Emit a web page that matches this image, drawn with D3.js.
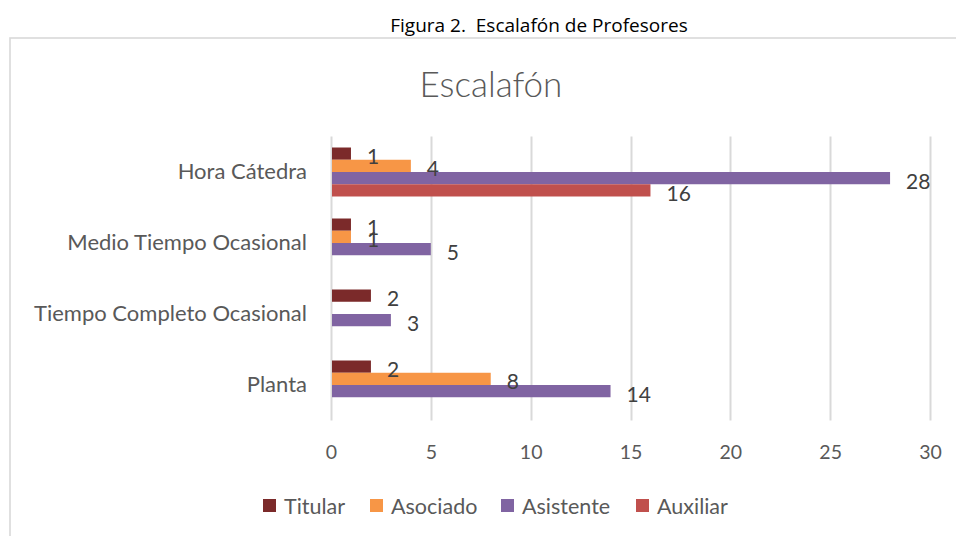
<!DOCTYPE html>
<html>
<head>
<meta charset="utf-8">
<script src="https://cdn.jsdelivr.net/npm/d3@7"></script>
<style>
  body { margin: 0; background: #fff; }
  svg text { font-family: "Lato", "Open Sans", sans-serif; }
</style>
</head>
<body>
<svg id="chart" width="956" height="536"></svg>
<script>
var categories = ["Hora Cátedra", "Medio Tiempo Ocasional", "Tiempo Completo Ocasional", "Planta"];
var seriesNames = ["Titular", "Asociado", "Asistente", "Auxiliar"];
var titular = [1, 1, 2, 2];
var asociado = [4, 1, null, 8];
var asistente = [28, 5, 3, 14];
var auxiliar = [16, null, null, null];
var xTicks = [0, 5, 10, 15, 20, 25, 30];

var series = [titular, asociado, asistente, auxiliar];
var colours = ["#7B2A2A", "#F79646", "#8064A2", "#C0504D"];

var svg = d3.select("#chart"),
    margin = {top: 136.5, right: 26, bottom: 115.5, left: 331},
    width = +svg.attr("width") - margin.left - margin.right,
    height = +svg.attr("height") - margin.top - margin.bottom;

// caption above the frame
svg.append("text")
    .attr("x", 539)
    .attr("y", 25)
    .attr("text-anchor", "middle")
    .attr("dominant-baseline", "central")
    .attr("fill", "#000")
    .style("font-family", "'Open Sans', sans-serif")
    .style("font-size", "19px")
    .text("Figura 2.\u00a0 Escalafón de Profesores");

// chart frame
svg.append("rect")
    .attr("x", 10).attr("y", 38)
    .attr("width", 960).attr("height", 520)
    .attr("fill", "none")
    .attr("stroke", "#d9d9d9")
    .attr("stroke-width", 1.6);

svg.append("text")
    .attr("x", 491)
    .attr("y", 83)
    .attr("text-anchor", "middle")
    .attr("dominant-baseline", "central")
    .attr("fill", "#595959")
    .style("font-size", "35px")
    .style("font-weight", 300)
    .text("Escalafón");

var chart = svg.append("g").attr("transform", "translate(" + margin.left + "," + margin.top + ")");

var x = d3.scaleLinear().domain([0, 30]).range([0, width]);

var y0 = d3.scaleBand()
    .domain(categories)
    .range([0, height])
    .paddingInner(0.31)
    .paddingOuter(0.155);

var y1 = d3.scaleBand()
    .domain(seriesNames)
    .range([0, y0.bandwidth()]);

// gridlines
chart.append("g")
    .selectAll("line")
    .data(xTicks)
    .enter().append("line")
    .attr("x1", function(d) { return Math.round(x(d)) + 0.5; })
    .attr("x2", function(d) { return Math.round(x(d)) + 0.5; })
    .attr("y1", 0)
    .attr("y2", height)
    .attr("stroke", "#d9d9d9")
    .attr("stroke-width", 2);

// x axis labels
var xAxis = chart.append("g")
    .attr("transform", "translate(0," + height + ")")
    .call(d3.axisBottom(x).tickValues(xTicks).tickSize(0).tickPadding(0));
xAxis.select(".domain").remove();
xAxis.selectAll("text")
    .attr("y", 31.5)
    .attr("dy", "0.35em")
    .attr("fill", "#595959")
    .style("font-size", "19.5px")
    .style("font-family", "Lato, sans-serif");

// y axis labels
var yAxis = chart.append("g")
    .call(d3.axisLeft(y0).tickSize(0).tickPadding(24));
yAxis.select(".domain").remove();
yAxis.selectAll("text")
    .attr("fill", "#595959")
    .style("font-size", "22px")
    .style("font-family", "Lato, sans-serif");

// bars
var rows = categories.map(function(c, i) {
    return seriesNames.map(function(s, j) { return {cat: c, key: s, value: series[j][i], colour: colours[j]}; })
        .filter(function(d) { return d.value != null; });
});

var groups = chart.append("g")
    .selectAll("g")
    .data(rows)
    .enter().append("g")
    .attr("transform", function(d, i) { return "translate(0," + y0(categories[i]) + ")"; });

groups.selectAll("rect")
    .data(function(d) { return d; })
    .enter().append("rect")
    .attr("x", x(0) + 1)
    .attr("y", function(d) { return y1(d.key); })
    .attr("width", function(d) { return x(d.value) - x(0) - 1; })
    .attr("height", y1.bandwidth())
    .attr("fill", function(d) { return d.colour; });

groups.selectAll("text")
    .data(function(d) { return d; })
    .enter().append("text")
    .attr("x", function(d) { return x(d.value) + 16; })
    .attr("y", function(d) { return y1(d.key) + y1.bandwidth() / 2 + 2; })
    .attr("dominant-baseline", "central")
    .attr("fill", "#404040")
    .style("font-size", "21px")
    .text(function(d) { return d.value; });

// legend
var legendX = [263, 370, 501, 636];
var legend = svg.append("g")
    .selectAll("g")
    .data(seriesNames)
    .enter().append("g")
    .attr("transform", function(d, i) { return "translate(" + legendX[i] + ",499)"; });

legend.append("rect")
    .attr("width", 13)
    .attr("height", 13)
    .attr("fill", function(d, i) { return colours[i]; });

legend.append("text")
    .attr("x", 21)
    .attr("y", 7)
    .attr("dominant-baseline", "central")
    .attr("fill", "#595959")
    .style("font-size", "21.5px")
    .text(function(d) { return d; });
</script>
</body>
</html>
